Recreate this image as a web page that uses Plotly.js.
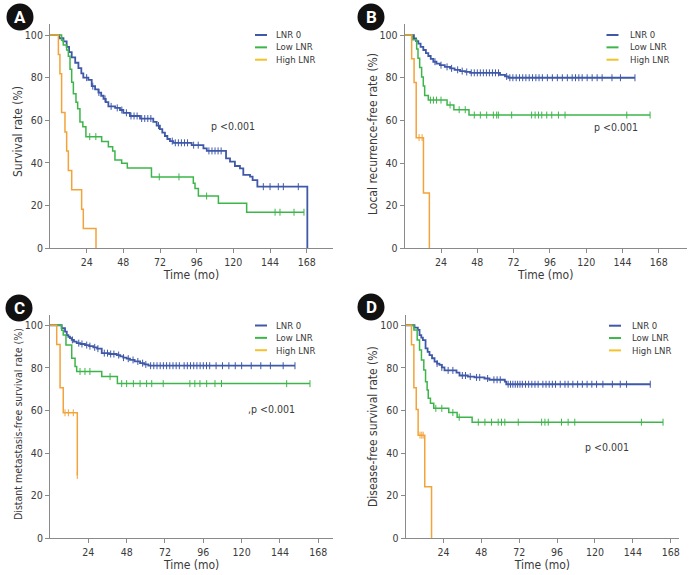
<!DOCTYPE html>
<html>
<head>
<meta charset="utf-8">
<script src="https://cdn.plot.ly/plotly-3.0.1.min.js"></script>
<style>html,body{margin:0;padding:0;background:#fff;}#chart{width:692px;height:575px;}</style>
</head>
<body>
<div id="chart"></div>
<script>
// ---------- DATA ----------
const seriesNames = ['LNR 0', 'Low LNR', 'High LNR'];
const panelLetters = ['A', 'B', 'C', 'D'];
const yTitles = ['Survival rate (%)', 'Local recurrence-free rate (%)', 'Distant metastasis-free survival rate (%)', 'Disease-free survival rate (%)'];
const xTitle = 'Time (mo)';
const xTicks = [24, 48, 72, 96, 120, 144, 168];
const yTicks = [0, 20, 40, 60, 80, 100];
const pTexts = ['p <0.001', 'p <0.001', ',p <0.001', 'p <0.001'];

// Panel A: overall survival
const A_lnr0_t = [0, 6.1, 8.8, 10.9, 12.5, 14.2, 16.5, 18.6, 20.5, 21.8, 25.1, 27.3, 29.5, 31.7, 33.5, 35, 36.5, 38.2, 42.6, 45.8, 48, 52.3, 58.9, 67.6, 69.8, 71.9, 73.5, 75.2, 76.8, 78.5, 80.7, 92.7, 100.4, 102.6, 115.2, 117.8, 121, 124.3, 126.5, 130.9, 132.6, 135.7, 168.4];
const A_lnr0_s = [100, 98.5, 97, 94.5, 92, 89.5, 87, 84.5, 82, 80, 79, 76, 74.5, 73, 71.5, 70, 68.5, 66.5, 65.8, 64.8, 63.5, 62, 60.8, 59.2, 57.5, 55.8, 54.2, 52.6, 51.2, 50.2, 49.4, 48.3, 46.8, 45.6, 42.1, 40.6, 38.5, 37.4, 34.3, 33.5, 31.9, 28.8, 0];
const A_lnr0_c = [24, 28, 32, 36, 40, 44, 47, 50, 53, 55, 57, 60, 62, 64, 66, 71, 80, 82, 84, 86, 88, 90, 94, 97, 104, 106, 108, 110, 112, 139.6, 144, 149.4, 152.7, 162.5];
const A_low_t = [0, 7.6, 8.7, 10.9, 12, 13.1, 14.2, 15.3, 17, 18.1, 19.6, 21.5, 23.5, 33.8, 38.2, 41, 42.5, 46.9, 50.6, 66.4, 93.8, 94.9, 97.1, 110.2, 128.7];
const A_low_s = [100, 97.6, 95.3, 93, 90, 84, 77.8, 72.4, 68.5, 65.4, 59.2, 57, 52.3, 50, 47.5, 45.5, 41.3, 39.8, 37.6, 33.4, 30.4, 28, 24.4, 21, 16.8];
const A_low_c = [26, 30, 71.5, 84.4, 102.5, 147.3, 150.5, 159.7, 166.2];
const A_high_t = [0, 5.5, 6.5, 7.6, 9.8, 10.9, 12, 14.2, 20.7, 21.8, 30.1];
const A_high_s = [100, 90.9, 81.8, 63.6, 54.5, 45.5, 36.4, 27.3, 18.2, 9.1, 0];
const A_high_c = [];

// Panel B: local recurrence-free
const B_lnr0_t = [0, 6.1, 7.5, 9, 10.5, 12.3, 14, 15.6, 17.2, 18.9, 21, 23.3, 26.5, 30, 33, 36.6, 40, 43.2, 63, 66.3, 68.5];
const B_lnr0_s = [100, 98.5, 97.2, 96, 94.5, 93, 91.5, 90.2, 88.8, 87.5, 86.6, 85.9, 85.1, 84.4, 83.7, 83.1, 82.7, 82.3, 81.3, 80.6, 80];
const B_lnr0_c = [20, 24, 28, 31, 35, 38, 41, 44, 46, 48, 50, 52, 54, 56, 58, 60, 62, 67.4, 69.5, 71.5, 73.7, 75.9, 78, 80.1, 82.3, 84.5, 86.7, 88.8, 91, 94.3, 97.6, 100.9, 104.2, 107.5, 110.7, 112.9, 115.1, 117.3, 120.6, 123.9, 127.2, 130.5, 137, 142.6, 152.2];
const B_low_t = [0, 5, 7.9, 8.8, 9.9, 11.2, 12.3, 13.2, 15.6, 28, 32.5, 42.5];
const B_low_s = [100, 97.8, 93.5, 89.1, 84.8, 80.4, 76.1, 71.7, 69.5, 67.2, 65, 62.5];
const B_low_c = [17, 19, 21, 24, 30, 36, 40, 46, 50, 54.2, 58.6, 60.8, 61.9, 70.7, 83.9, 86.2, 88.4, 90.6, 93.9, 97.2, 101.6, 106, 146.8, 162.2];
const B_high_t = [0, 4.6, 6.2, 7.6, 12.4, 16.3];
const B_high_s = [100, 88.9, 77.8, 51.9, 25.9, 0];
const B_high_c = [9.5, 11.5];

// Panel C: distant metastasis-free survival
const C_lnr0_t = [0, 7.3, 9.4, 10.5, 11.5, 12.5, 13.6, 15, 16.7, 19, 21.9, 24.5, 27.1, 29.5, 32.4, 37, 41.8, 44, 45.9, 48, 50.1, 53, 56.4, 59, 61.6];
const C_lnr0_s = [100, 98.6, 97, 95.4, 94.6, 93.9, 93.1, 92.3, 91.6, 91.2, 90.7, 90.2, 89.6, 89, 86.9, 86.5, 86, 85.4, 84.8, 84.3, 83.7, 83, 82.2, 81.6, 81];
const C_lnr0_c = [14, 18, 20, 23, 25, 28, 30, 34, 36, 38, 40, 43, 46, 49, 52, 55, 58, 60, 63, 65, 67, 69, 71, 73, 75, 77, 79, 81, 84, 86, 88, 90, 92, 94, 96, 98, 100, 104, 108, 112, 116, 120, 126, 132, 138, 146, 153.4];
const C_low_t = [0, 7.3, 8.3, 10, 13.6, 15.7, 16.7, 32.4, 42.2];
const C_low_s = [100, 97.7, 95.4, 90.7, 84.5, 80.6, 78.3, 75.9, 72.6];
const C_low_c = [18.8, 21.9, 25, 37.6, 44.9, 48, 52.2, 56.4, 60.5, 63.7, 70.9, 87.6, 90.7, 93.9, 98.1, 103.3, 107.4, 148.2, 162.8];
const C_high_t = [0, 4.2, 6.3, 8.3, 17.1];
const C_high_s = [100, 90.9, 70.7, 58.9, 29.5];
const C_high_c = [9.4, 11.5, 14.6, 17.1];

// Panel D: disease-free survival
const D_lnr0_t = [0, 5.7, 7.8, 8.9, 10, 11, 12.7, 14, 15.2, 16.8, 18.4, 20, 21.5, 23, 24.7, 32.3, 34.2, 39.5, 43.7, 50, 53.2, 62.9, 63.8];
const D_lnr0_s = [100, 98.9, 97.8, 95.4, 94.2, 93, 89.1, 87.5, 86, 84.5, 82.9, 82, 81.4, 80.2, 78.8, 77.8, 76.4, 75.9, 75.5, 75, 74.4, 73.5, 72.3];
const D_lnr0_c = [20, 23, 27, 30, 36, 38, 41, 45, 47, 52, 56, 58, 60, 65, 66.5, 68, 69.5, 71, 72.5, 74, 76, 78, 80, 82, 84, 87, 89, 91, 93, 95, 98, 101, 103, 106, 109, 112, 115, 118, 121, 125, 131, 136, 140, 155];
const D_low_t = [0, 5.3, 7.4, 8.9, 10.1, 11.6, 12.7, 13.7, 14.4, 15.8, 17.9, 27.4, 32.7, 42.2];
const D_low_s = [100, 97.8, 93.1, 88.4, 83.7, 79, 73.5, 69.6, 65.7, 63.4, 61, 59, 56.8, 54.5];
const D_low_c = [19.2, 23, 30, 34, 46.1, 50.3, 54.5, 58.7, 60.8, 62.9, 71.4, 86.2, 88.3, 90.4, 98.8, 103, 107.2, 149.4, 163.1];
const D_high_t = [0, 3.8, 5.3, 6.8, 8, 12.2, 16.5];
const D_high_s = [100, 90.8, 70.6, 60.5, 48.4, 24.2, 0];
const D_high_c = [9.2, 10.3, 11.2];

// ---------- STYLE / LAYOUT ----------
const W = 692, H = 575;
const FONT = '"Liberation Sans Narrow", "DejaVu Sans Condensed", Roboto, Arial, sans-serif';
const lineColors = ['#3f58a8', '#3db54a', '#f2a33a'];
const legendColors = ['#3f58a8', '#3db54a', '#f4c22b'];
const axisGray = '#8a8a8a';
const textColor = '#3a3a3a';

const panelData = [
  [[A_lnr0_t, A_lnr0_s, A_lnr0_c], [A_low_t, A_low_s, A_low_c], [A_high_t, A_high_s, A_high_c]],
  [[B_lnr0_t, B_lnr0_s, B_lnr0_c], [B_low_t, B_low_s, B_low_c], [B_high_t, B_high_s, B_high_c]],
  [[C_lnr0_t, C_lnr0_s, C_lnr0_c], [C_low_t, C_low_s, C_low_c], [C_high_t, C_high_s, C_high_c]],
  [[D_lnr0_t, D_lnr0_s, D_lnr0_c], [D_low_t, D_low_s, D_low_c], [D_high_t, D_high_s, D_high_c]]
];

// pixel geometry of each panel
const geo = [
  {x0: 50,    x1: 333,   y0: 24,  y1: 248,   xmax: 185.2, ymax: 105.2, circ: [20, 17],  leg: [255, 275, 35],    p: [104.3, 57.3], yt: [18, 132],  ytSize: 12},
  {x0: 404.7, x1: 686.7, y0: 24,  y1: 248.3, xmax: 186.4, ymax: 105.2, circ: [371, 17], leg: [606.5, 629, 35],  p: [123.8, 56.7], yt: [373, 134], ytSize: 12},
  {x0: 50,    x1: 333.3, y0: 315, y1: 538.3, xmax: 177.4, ymax: 104.8, circ: [19, 308], leg: [255, 275, 325.5], p: [122.5, 60.7], yt: [18, 424],  ytSize: 10.5},
  {x0: 405.5, x1: 679.3, y0: 315, y1: 538.3, xmax: 173.4, ymax: 104.8, circ: [371, 307], leg: [609, 631, 325.7], p: [112.3, 42.7], yt: [373, 427], ytSize: 12}
];
const LEG_FONT = 9.5, LEG_STEP = LEG_FONT * 1.3;

function stepAt(t, s, x) {
  let v = s[0];
  for (let i = 0; i < t.length; i++) { if (t[i] <= x) v = s[i]; }
  return v;
}

const traces = [];
const layout = {
  width: W, height: H,
  margin: {l: 0, r: 0, t: 0, b: 0},
  paper_bgcolor: '#fff', plot_bgcolor: 'rgba(0,0,0,0)',
  showlegend: false,
  font: {family: FONT, size: 10.5, color: textColor},
  shapes: [], annotations: []
};

geo.forEach((g, pi) => {
  const sx = pi === 0 ? '' : String(pi + 1);
  const xa = 'x' + sx, ya = 'y' + sx;
  panelData[pi].forEach((ser, si) => {
    const [t, s, c] = ser;
    const lastC = c.length ? c[c.length - 1] : t[t.length - 1];
    const endT = Math.max(lastC, t[t.length - 1]);
    const xs = t.slice(), ys = s.slice();
    if (endT > t[t.length - 1]) { xs.push(endT); ys.push(s[s.length - 1]); }
    traces.push({
      type: 'scatter', mode: 'lines', x: xs, y: ys, xaxis: xa, yaxis: ya,
      line: {shape: 'hv', color: lineColors[si], width: si === 0 ? 1.8 : 1.5},
      name: seriesNames[si], hoverinfo: 'skip'
    });
    if (c.length) {
      traces.push({
        type: 'scatter', mode: 'markers', x: c, y: c.map(v => stepAt(t, s, v)), xaxis: xa, yaxis: ya,
        marker: {symbol: 'line-ns', size: 5, line: {color: lineColors[si], width: 1}},
        name: seriesNames[si], hoverinfo: 'skip'
      });
    }
  });
  const axCommon = {
    showgrid: false, zeroline: false, showline: true, linecolor: axisGray, linewidth: 1,
    ticks: 'outside', ticklen: 4, tickcolor: axisGray, tickwidth: 1,
    tickfont: {family: FONT, size: 10.5, color: textColor}, automargin: false, fixedrange: true
  };
  layout['xaxis' + sx] = Object.assign({}, axCommon, {
    domain: [g.x0 / W, g.x1 / W], range: [0, g.xmax], anchor: ya,
    tickmode: 'array', tickvals: xTicks, ticktext: xTicks.map(String),
    title: {text: xTitle, font: {family: FONT, size: 12, color: textColor}, standoff: 0}
  });
  layout['yaxis' + sx] = Object.assign({}, axCommon, {
    domain: [1 - g.y1 / H, 1 - g.y0 / H], range: [0, g.ymax], anchor: xa,
    tickmode: 'array', tickvals: yTicks, ticktext: yTicks.map(String)
  });
  // y-axis title
  layout.annotations.push({xref: 'paper', yref: 'paper', x: g.yt[0] / W, y: 1 - g.yt[1] / H,
    text: yTitles[pi], textangle: -90, showarrow: false, xanchor: 'center', yanchor: 'middle',
    font: {family: FONT, size: g.ytSize, color: textColor}});
  // panel letter badge
  const r = 13.5;
  layout.shapes.push({type: 'circle', xref: 'paper', yref: 'paper',
    x0: (g.circ[0] - r) / W, x1: (g.circ[0] + r) / W, y0: 1 - (g.circ[1] + r) / H, y1: 1 - (g.circ[1] - r) / H,
    fillcolor: '#111', line: {width: 0}});
  layout.annotations.push({xref: 'paper', yref: 'paper', x: g.circ[0] / W, y: 1 - g.circ[1] / H,
    text: '<b>' + panelLetters[pi] + '</b>', showarrow: false, xanchor: 'center', yanchor: 'middle',
    font: {family: 'Roboto, Arial, sans-serif', size: 17, color: '#fff'}});
  // legend: line samples + one multi-line text block
  seriesNames.forEach((nm, si) => {
    const yy = g.leg[2] + si * LEG_STEP;
    layout.shapes.push({type: 'line', xref: 'paper', yref: 'paper',
      x0: g.leg[0] / W, x1: (g.leg[0] + 12) / W, y0: 1 - yy / H, y1: 1 - yy / H,
      line: {color: legendColors[si], width: 2}});
  });
  layout.annotations.push({xref: 'paper', yref: 'paper', x: g.leg[1] / W, y: 1 - (g.leg[2] + LEG_STEP) / H,
    text: seriesNames.join('<br>'), showarrow: false, xanchor: 'left', yanchor: 'middle', align: 'left',
    borderpad: 0, font: {family: FONT, size: LEG_FONT, color: textColor}});
  // p value
  layout.annotations.push({xref: xa, yref: ya, x: g.p[0], y: g.p[1], text: pTexts[pi],
    showarrow: false, xanchor: 'left', yanchor: 'middle',
    font: {family: FONT, size: 10.5, color: textColor}});
});

Plotly.newPlot('chart', traces, layout, {displayModeBar: false, staticPlot: true});
</script>
</body>
</html>
